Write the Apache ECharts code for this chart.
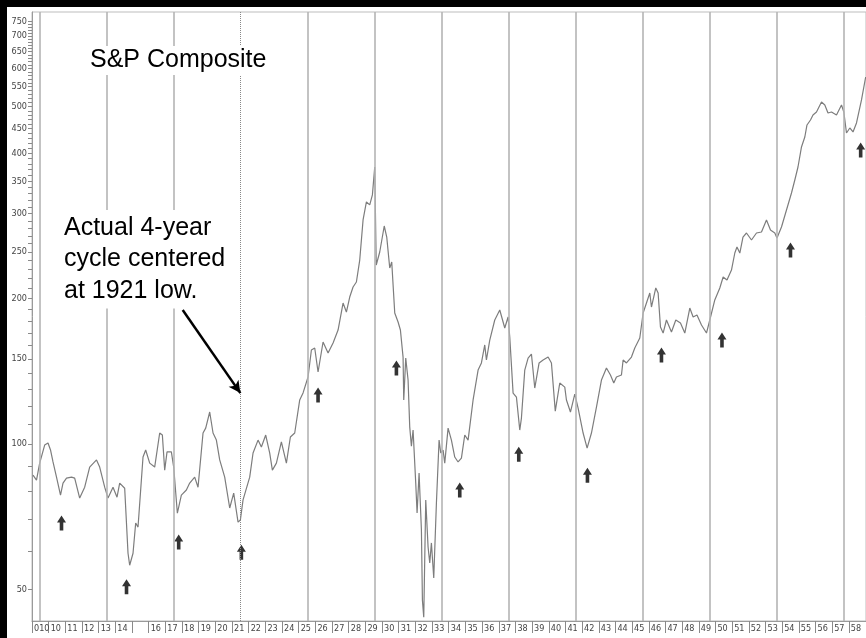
<!DOCTYPE html>
<html><head><meta charset="utf-8">
<script src="https://cdn.jsdelivr.net/npm/echarts@6/dist/echarts.min.js"></script>
<style>html,body{margin:0;padding:0;background:#fff}#c{width:866px;height:638px}</style>
</head><body><div id="c"></div>
<script>
// ---- data ----
const years = [
1909.06,1909.27,1909.46,1909.76,1909.96,1910.11,1910.26,1910.47,1910.71,1910.86,
1911.07,1911.37,1911.56,1911.86,1912.16,1912.46,1912.87,1913.06,1913.36,1913.56,
1913.86,1914.10,1914.26,1914.56,1914.76,1914.86,1915.06,1915.22,1915.36,1915.66,
1915.82,1916.06,1916.36,1916.66,1916.82,1916.96,1917.10,1917.36,1917.50,1917.72,
1917.96,1918.26,1918.46,1918.76,1918.96,1919.26,1919.42,1919.66,1919.86,1920.06,
1920.26,1920.56,1920.86,1921.10,1921.36,1921.50,1921.66,1922.06,
1922.26,1922.56,1922.76,1923.02,1923.26,1923.42,1923.66,1923.96,1924.26,1924.50,
1924.76,1925.06,1925.26,1925.56,1925.76,1925.96,1926.16,1926.46,1926.76,1927.06,
1927.36,1927.66,1927.86,1928.06,1928.26,1928.46,1928.66,1928.86,1929.06,1929.26,
1929.42,1929.56,
1929.65,1929.86,1930.13,1930.28,1930.46,1930.58,1930.76,1930.96,1931.10,1931.26,
1931.30,1931.42,1931.56,1931.66,1931.76,1931.86,1932.02,1932.10,1932.22,1932.36,
1932.42,1932.50,1932.62,1932.76,1932.86,1932.96,1933.10,1933.26,1933.42,1933.52,
1933.66,1933.76,1933.96,1934.16,1934.36,1934.56,1934.76,1934.96,1935.16,1935.46,
1935.76,1935.96,1936.16,1936.26,1936.46,1936.76,1937.06,1937.36,1937.56,1937.66,
1937.86,1938.06,1938.26,1938.36,1938.56,1938.76,1938.96,1939.16,1939.42,1939.66,
1939.96,1940.16,1940.39,1940.66,1940.96,1941.06,1941.30,1941.56,1941.76,1942.06,
1942.30,1942.56,1942.86,1943.16,1943.46,1943.70,1943.90,1944.06,1944.36,1944.46,
1944.66,1944.96,1945.16,1945.46,1945.66,1945.86,1946.06,1946.16,1946.42,1946.56,
1946.70,1946.86,1947.06,1947.36,1947.62,1947.90,1948.16,1948.46,1948.66,1948.89,
1949.16,1949.46,1949.66,1949.96,1950.26,1950.46,1950.69,1950.96,1951.16,1951.29,
1951.46,1951.65,1951.86,1952.16,1952.46,1952.76,1953.06,1953.30,1953.56,1953.69,
1953.96,1954.26,1954.56,1954.76,1954.95,1955.16,1955.36,1955.49,1955.70,1955.85,
1956.06,1956.36,1956.56,1956.75,1956.96,1957.26,1957.56,1957.70,1957.86,1958.06,
1958.25,1958.46,1958.76,1959.01];
const values = [
86.2,84.2,91.3,99.5,100.5,97.2,91.8,85.4,78.4,83.0,
85.0,85.4,85.0,77.3,81.4,89.6,92.7,89.6,81.4,77.3,
81.4,77.6,83.0,81.0,59.4,56.1,59.4,68.6,67.3,94.0,
97.2,91.3,89.6,105.4,104.4,88.3,96.3,96.3,89.6,71.9,
78.4,80.3,83.0,85.4,81.4,105.4,107.9,116.5,105.4,101.9,
92.7,85.4,73.7,79.1,68.9,69.6,76.6,85.4,
95.8,101.9,98.6,104.4,95.8,88.3,91.3,101.0,91.3,103.4,
105.4,123.4,127.6,137.7,156.6,158.1,141.0,162.7,154.4,161.9,
172.2,195.9,187.7,201.6,211.5,216.6,240.5,291.2,317.3,312.8,
328.1,374.9,
234.9,249.9,282.9,268.4,231.5,238.3,186.8,179.0,172.3,151.4,
123.4,150.7,135.7,108.4,99.0,106.9,83.0,72.0,87.1,66.4,
47.5,43.8,76.6,61.2,56.7,62.4,52.8,75.5,101.9,95.8,
97.2,91.3,107.9,101.9,94.0,91.8,93.5,104.4,101.9,123.4,
142.3,147.2,160.4,149.3,164.2,180.7,189.5,173.9,183.3,166.6,
127.5,125.1,106.9,113.2,142.3,150.7,153.6,130.6,147.2,149.3,
151.4,147.2,117.0,133.8,131.2,123.4,116.5,126.9,118.7,105.4,
98.1,105.4,119.3,135.7,143.7,139.0,133.8,137.7,139.0,149.3,
147.2,151.4,158.1,165.8,186.8,195.9,205.5,192.2,210.5,205.5,
174.7,169.8,180.7,170.6,180.7,178.1,169.8,191.3,183.3,185.0,
176.4,169.8,180.7,198.8,210.5,221.8,218.6,229.3,248.7,255.9,
248.7,268.4,273.6,264.6,273.6,274.9,291.1,277.5,273.6,267.2,
281.5,305.3,331.1,352.3,374.8,412.4,432.5,458.0,469.0,480.4,
487.3,511.1,503.9,485.0,487.3,480.4,503.9,487.3,440.8,451.5,
443.0,462.4,516.0,575.8];
const cycleYears = [1909.47,1913.49,1917.50,1921.52,1925.54,1929.56,1933.58,1937.60,1941.62,1945.64,1949.66,1953.67,1957.69];
const dottedCycleYear = 1921.52;
const arrowYears  = [1910.77,1914.67,1917.80,1921.56,1926.16,1930.86,1934.66,1938.20,1942.32,1946.76,1950.39,1954.50,1958.71];
const arrowValues = [68.6,50.6,62.7,59.7,126.3,143.7,80.3,95.3,86.2,152.9,164.3,252.3,406.5];
const yLabelValues = [50,100,150,200,250,300,350,400,450,500,550,600,650,700,750];
const xTickLabels = ['010','10','11','12','13','14','','16','17','18','19','20','21','22','23','24','25','26','27','28','29','30','31','32','33','34','35','36','37','38','39','40','41','42','43','44','45','46','47','48','49','50','51','52','53','54','55','56','57','58'];
const firstTickYear = 1909;
const calloutFrom = [1918.04, 189.5];
const calloutTo = [1921.5, 127.5];
const yRange = [43, 785];
const xRange = [1909, 1959.03];

// ---- build ----
const L = Math.log10;
const xTickYears = xTickLabels.map((_, i) => firstTickYear + i);
const yMinor = [];
for (let v = 50; v <= 750; v += 10) yMinor.push(L(v));

const chart = echarts.init(document.getElementById('c'), null, {renderer: 'canvas'});
const axisFont = "'DejaVu Sans Condensed','Liberation Sans Narrow','Liberation Sans',Arial,sans-serif";
const option = {
  backgroundColor: '#fff',
  animation: false,
  grid: {left: 32, right: 0, top: 12, bottom: 17, show: true, borderColor: '#bdbdbd', borderWidth: 1},
  xAxis: {
    type: 'value', min: xRange[0], max: xRange[1],
    splitLine: {show: false},
    axisLine: {lineStyle: {color: '#9a9a9a', width: 1}},
    axisTick: {show: true, customValues: xTickYears, length: 12, lineStyle: {color: '#8a8a8a'}},
    axisLabel: {customValues: xTickYears, align: 'left', margin: 3, padding: [0, 0, 0, 2],
      fontSize: 9, color: '#444', fontFamily: axisFont,
      formatter: v => xTickLabels[Math.round(v) - firstTickYear] || ''}
  },
  yAxis: {
    type: 'value', min: L(yRange[0]), max: L(yRange[1]),
    splitLine: {show: false},
    axisLine: {show: true, lineStyle: {color: '#9a9a9a', width: 1}},
    axisTick: {show: true, customValues: yMinor, length: 4, lineStyle: {color: '#8a8a8a'}},
    axisLabel: {customValues: yLabelValues.map(L), margin: 5, fontSize: 9, color: '#444', fontFamily: axisFont,
      formatter: v => String(Math.round(Math.pow(10, v)))}
  },
  series: [
    {
      type: 'line', data: [], z: 1, silent: true,
      markLine: {
        symbol: ['none', 'none'], silent: true, label: {show: false},
        data: cycleYears.map(y => ({
          xAxis: y,
          lineStyle: y === dottedCycleYear
            ? {color: '#888', width: 1, type: 'dotted'}
            : {color: '#b4b4b4', width: 1.6, type: 'solid'}
        }))
      }
    },
    {
      type: 'line', z: 3, symbol: 'none', silent: true,
      data: years.map((t, i) => [t, L(values[i])]),
      lineStyle: {color: '#7d7d7d', width: 1.2},
      markLine: {
        silent: true, symbol: ['none', 'arrow'], symbolSize: [9, 12], label: {show: false},
        lineStyle: {color: '#000', width: 2.5, type: 'solid'},
        data: [[{coord: [calloutFrom[0], L(calloutFrom[1])]}, {coord: [calloutTo[0], L(calloutTo[1])]}]]
      }
    },
    {
      type: 'scatter', z: 4, silent: true,
      symbol: 'path://M5,0 L10,7 L7,7 L7,15 L3,15 L3,7 L0,7 Z',
      symbolSize: [9, 15],
      itemStyle: {color: '#000'},
      data: arrowYears.map((t, i) => [t, L(arrowValues[i])])
    }
  ],
  graphic: [
    {type: 'rect', z: 200, shape: {x: 0, y: 0, width: 866, height: 7}, style: {fill: '#000'}},
    {type: 'rect', z: 200, shape: {x: 0, y: 0, width: 7, height: 638}, style: {fill: '#000'}},
    {type: 'text', z: 100, left: 86, top: 46,
      style: {text: 'S&P Composite', fontSize: 25, fontFamily: "'Liberation Sans',Arial,sans-serif",
        fill: '#000', backgroundColor: '#fff', padding: [2, 4, 2, 4]}},
    {type: 'text', z: 100, left: 62, top: 210,
      style: {text: 'Actual 4-year\ncycle centered\nat 1921 low.', fontSize: 25, lineHeight: 31.5,
        fontFamily: "'Liberation Sans',Arial,sans-serif", fill: '#000', backgroundColor: '#fff', padding: [2, 2, 2, 2]}}
  ]
};
chart.setOption(option);
</script></body></html>
